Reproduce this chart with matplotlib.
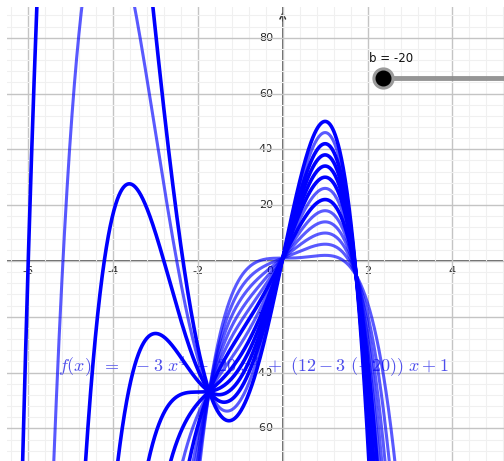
import numpy as np
import matplotlib.pyplot as plt
from matplotlib.ticker import MultipleLocator

# valores del deslizador b que quedaron trazados
b_vals   = [-20, -18, -16, -14, -12, -10, -8, -6, -4, -2, 0, 2, 4]
b_oscuro = [True, False, True, True, True, True, False, True, False, False, False, False, False]
b_actual = -20

x_ticks = [-6, -4, -2, 2, 4]
y_ticks = [80, 60, 40, 20, -20, -40, -60]

XMIN, XMAX = -6.503, 5.219
YMIN, YMAX = -71.7, 91.0


def f(x, b):
    return -3 * x**4 + b * x**3 + (12 - 3 * b) * x + 1


fig = plt.figure(figsize=(5.04, 4.61), dpi=100)
ax = fig.add_axes([7 / 504, 0, 497 / 504, 454 / 461])
ax.set_xlim(XMIN, XMAX)
ax.set_ylim(YMIN, YMAX)
for s in ax.spines.values():
    s.set_visible(False)

# cuadrícula estilo GeoGebra
ax.xaxis.set_major_locator(MultipleLocator(2))
ax.xaxis.set_minor_locator(MultipleLocator(0.4))
ax.yaxis.set_major_locator(MultipleLocator(20))
ax.yaxis.set_minor_locator(MultipleLocator(4))
ax.grid(which='major', color='#c4c4c4', lw=1.0, zorder=0)
ax.grid(which='minor', color='#f0f0f0', lw=0.8, zorder=0)
ax.tick_params(which='both', length=0, labelbottom=False, labelleft=False)

# ejes
ax.axhline(0, color='#333333', lw=1.1, zorder=1)
ax.axvline(0, color='#333333', lw=1.1, zorder=1)
ax.annotate('', xy=(0, 90.3), xytext=(0, 85), zorder=1,
            arrowprops=dict(arrowstyle='->', color='#333333', lw=1.1))

for t in x_ticks:
    ax.text(t, -1.8, str(t), ha='center', va='top', fontsize=8, color='#222222', zorder=1)
ax.text(-0.23, -1.8, '0', ha='right', va='top', fontsize=8, color='#222222', zorder=1)
for t in y_ticks:
    ax.text(-0.23, t, str(t), ha='right', va='center', fontsize=8, color='#222222', zorder=1)

# texto de la función (debajo de las curvas)
plt.rcParams['mathtext.fontset'] = 'cm'
ax.text(-5.3, -38.2,
        r'$f(x)\ \ =\ \ -3\ x^{4}\ -\ 20\ x^{3}\ +\ (12-3\ (-20))\ x+1$',
        fontsize=13, color=(0.3, 0.3, 0.92), ha='left', va='center', zorder=2)

# curvas trazadas
xs = np.linspace(XMIN - 0.2, XMAX + 0.2, 3000)
for b, osc in zip(b_vals, b_oscuro):
    if osc:
        ax.plot(xs, f(xs, b), color='#0000ff', lw=2.6, zorder=3, solid_capstyle='round')
    else:
        ax.plot(xs, f(xs, b), color='#0000ff', lw=2.2, alpha=0.65, zorder=3)

# deslizador
kx, ky = 2.365, 65.6
ax.plot([kx, XMAX + 0.5], [ky, ky], color='#8a8a8a', lw=3.5, alpha=0.9,
        solid_capstyle='butt', zorder=4, clip_on=False)
ax.plot([kx], [ky], 'o', ms=15, color='#9a9a9a', zorder=5)
ax.plot([kx], [ky], 'o', ms=10.5, color='black', zorder=6)
ax.text(kx - 0.33, ky + 7, 'b = ' + str(b_actual), fontsize=8.5, color='#111111',
        ha='left', va='center', zorder=6)

plt.savefig('out.png', dpi=100)
plt.close()
